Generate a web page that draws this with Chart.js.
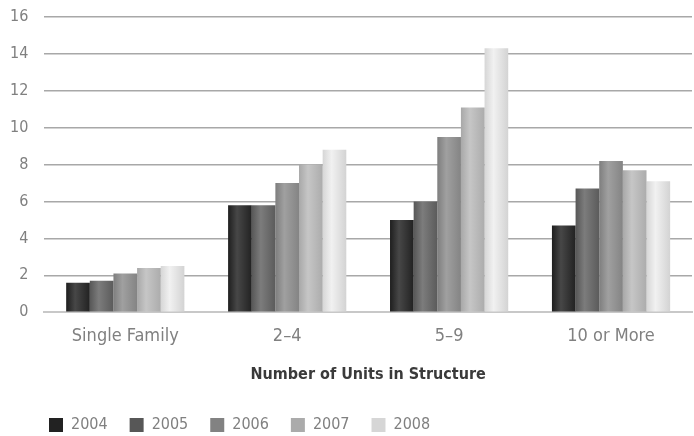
<!DOCTYPE html>
<html>
<head>
<meta charset="utf-8">
<script src="https://cdn.jsdelivr.net/npm/chart.js@4"></script>
<style>
  html, body { margin: 0; padding: 0; background: #fff; }
  #wrap { width: 694px; height: 436px; }
</style>
</head>
<body>
<div id="wrap"><canvas id="unitsChart"></canvas></div>
<script>
const categories = ["Single Family", "2\u20134", "5\u20139", "10 or More"];
const years = ["2004", "2005", "2006", "2007", "2008"];
const values2004 = [1.6, 5.8, 5.0, 4.7];
const values2005 = [1.7, 5.8, 6.0, 6.7];
const values2006 = [2.1, 7.0, 9.5, 8.2];
const values2007 = [2.4, 8.0, 11.1, 7.7];
const values2008 = [2.5, 8.8, 14.3, 7.1];
const yTicks = [0, 2, 4, 6, 8, 10, 12, 14, 16];

// flat colour (legend) + edge / highlight for the cylinder look
const legendColors = ["#222222", "#575757", "#828282", "#ababab", "#d6d6d6"];
const shades = [
    ["#1e1e1e", "#474747", "#222222"],
    ["#575757", "#7c7c7c", "#5b5b5b"],
    ["#7e7e7e", "#a0a0a0", "#848484"],
    ["#a8a8a8", "#c6c6c6", "#acacac"],
    ["#d6d6d6", "#f1f1f1", "#d3d3d3"]
];

const allValues = [values2004, values2005, values2006, values2007, values2008];

const FONT = "'Liberation Sans Narrow', 'DejaVu Sans Condensed', sans-serif";

// paint each bar with a horizontal gradient based on its own position
const cylinderBars = {
    id: 'cylinderBars',
    beforeDatasetsDraw(chart) {
        const ctx = chart.ctx;
        chart.data.datasets.forEach((ds, i) => {
            const meta = chart.getDatasetMeta(i);
            meta.data.forEach(bar => {
                const left = bar.x - bar.width / 2;
                const g = ctx.createLinearGradient(left, 0, left + bar.width, 0);
                g.addColorStop(0, shades[i][0]);
                g.addColorStop(0.38, shades[i][1]);
                g.addColorStop(1, shades[i][2]);
                bar.options = Object.assign({}, bar.options, { backgroundColor: g });
            });
        });
    }
};

// nudge the legend row to the right, like the original
const legendShift = {
    id: 'legendShift',
    afterLayout(chart) {
        chart.legend.left += 33;
    }
};

const ctx = document.getElementById('unitsChart').getContext('2d');
new Chart(ctx, {
    type: 'bar',
    data: {
        labels: categories,
        datasets: years.map((y, i) => ({
            label: y,
            data: allValues[i],
            // scriptable so every bar keeps its own options object
            backgroundColor: c => legendColors[c.datasetIndex],
            borderWidth: 0
        }))
    },
    options: {
        responsive: true,
        maintainAspectRatio: false,
        animation: false,
        datasets: {
            bar: { categoryPercentage: 0.73, barPercentage: 1.0 }
        },
        layout: {
            padding: { top: 17, right: 2, left: -6, bottom: -7 }
        },
        scales: {
            x: {
                grid: { display: false },
                border: { display: true, color: '#c8c8c8', width: 2 },
                ticks: {
                    color: '#808080',
                    font: { family: FONT, size: 18 },
                    padding: 5
                },
                title: {
                    display: true,
                    text: 'Number of Units in Structure',
                    color: '#3a3a3a',
                    font: { family: FONT, size: 16, weight: 'bold' },
                    padding: { top: 13, bottom: 11 }
                },
                afterFit(axis) {
                    axis.paddingLeft = 0;
                    axis.paddingRight = 0;
                }
            },
            y: {
                min: 0,
                max: 16,
                afterBuildTicks(axis) {
                    axis.ticks = yTicks.map(v => ({ value: v }));
                },
                afterFit(axis) {
                    axis.paddingTop = 0;
                    axis.paddingBottom = 0;
                },
                grid: {
                    color: '#a8a8a8',
                    lineWidth: 1.5,
                    drawTicks: false
                },
                border: { display: false },
                ticks: {
                    color: '#808080',
                    font: { family: FONT, size: 16 },
                    padding: 16
                }
            }
        },
        plugins: {
            legend: {
                position: 'bottom',
                align: 'start',
                labels: {
                    boxWidth: 14,
                    boxHeight: 14,
                    padding: 22,
                    color: '#808080',
                    font: { family: FONT, size: 16 }
                }
            },
            tooltip: { enabled: false }
        }
    },
    plugins: [cylinderBars, legendShift]
});
</script>
</body>
</html>
